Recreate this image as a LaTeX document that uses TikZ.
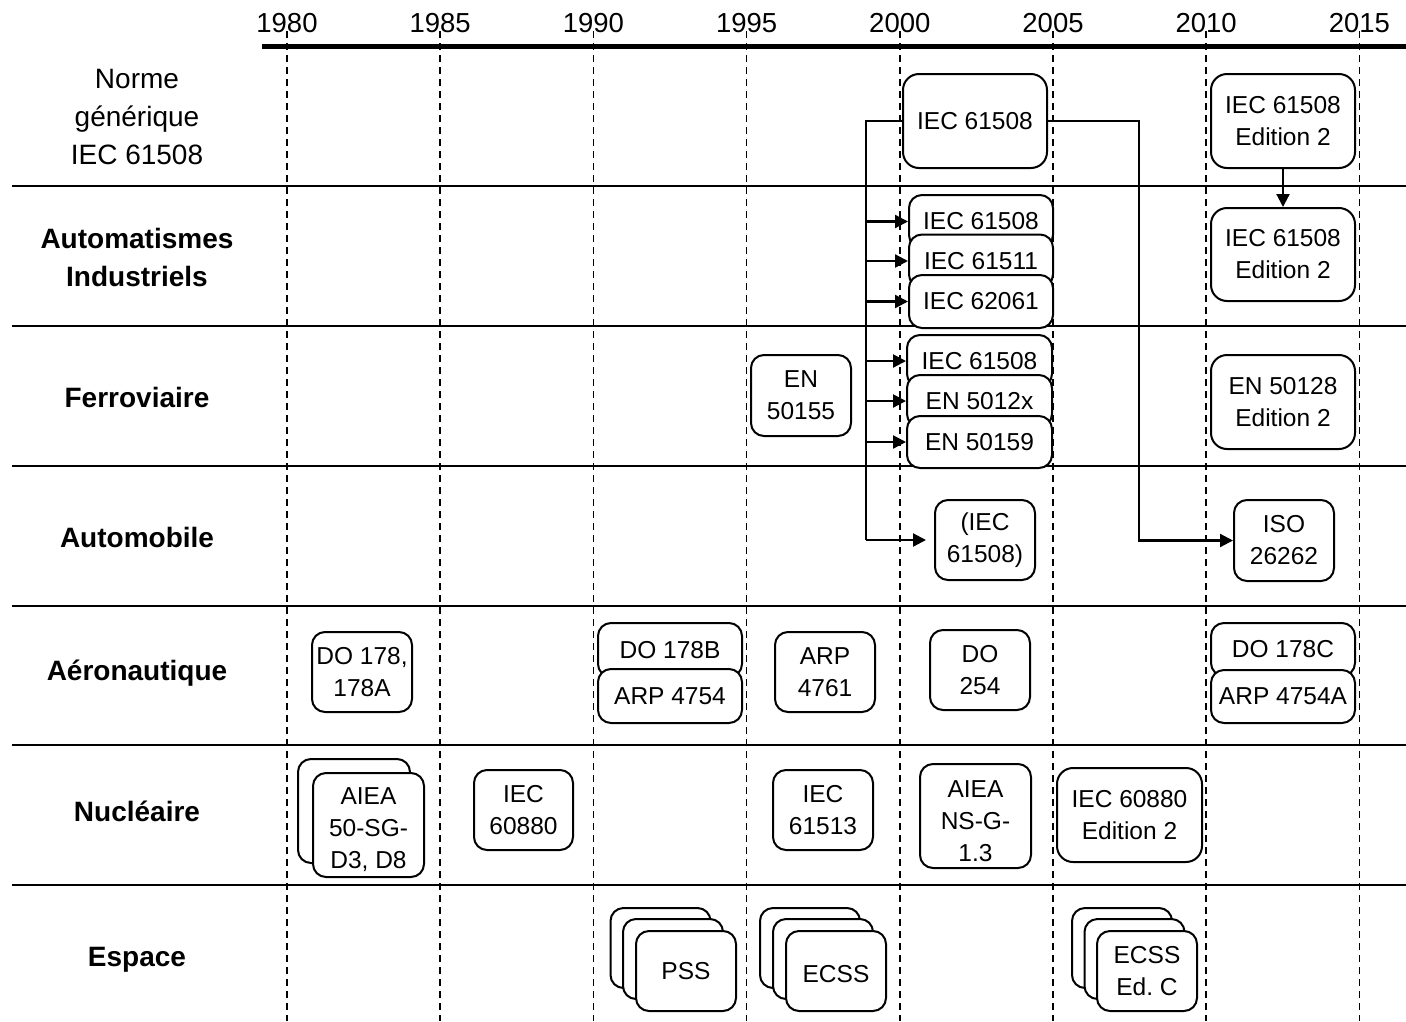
\documentclass[tikz,border=0pt]{standalone}
\usepackage{fontspec}
\setmainfont{Liberation Sans}
\usetikzlibrary{arrows.meta}
\newcommand\bxfont{\fontsize{24.5}{32}\selectfont}
\newcommand\lbfont{\fontsize{28}{38}\selectfont}
\newcommand\yrfont{\fontsize{27.5}{32}\selectfont}
\newcommand\lowtext[2]{\raisebox{#1}[\height][\depth]{\begin{tabular}{@{}c@{}}#2\end{tabular}}}
\begin{document}
\begin{tikzpicture}[x=1pt,y=-1pt,
 bx/.style={draw, line width=2pt, rounded corners=13pt, fill=white, align=center, font=\bxfont, inner sep=0pt},
 lbl/.style={align=center, font=\lbfont\bfseries},
 lblr/.style={align=center, font=\lbfont},
 sep/.style={line width=2.2pt},
 grid/.style={line width=1.6pt, dash pattern=on 7pt off 5pt},
 arr/.style={line width=2.2pt, -{Triangle[length=13pt,width=13pt]}},
 yr/.style={font=\yrfont, anchor=base, inner sep=0pt}]
\useasboundingbox (0,0) rectangle (1406,1021);

% years and grid
\foreach \yv [count=\k from 0] in {1980,1985,1990,1995,2000,2005,2010,2015}{
  \pgfmathsetmacro\xx{287+\k*153.2}
  \node[yr] (y\yv) at (\xx,32) {\yv};
  \draw[grid] (\xx,31) -- (\xx,1021);
}
\draw[line width=4.5pt] (262,46.5) -- (1406,46.5);

% row separators
\foreach \yy in {186,326,466,606,745,885}{
  \draw[sep] (12,\yy) -- (1406,\yy);
}

% row labels
\node[lblr] (l0) at (137,117) {Norme\\générique\\IEC 61508};
\node[lbl] (l1) at (137,257) {Automatismes\\Industriels};
\node[lbl] (l2) at (137,397) {Ferroviaire};
\node[lbl] (l3) at (137,537) {Automobile};
\node[lbl] (l4) at (137,673) {Aéronautique};
\node[lbl] (l5) at (137,811) {Nucléaire};
\node[lbl] (l6) at (137,960) {Espace};

% generic norm
\node[bx, rounded corners=16pt, minimum width=144pt, minimum height=94pt] (g) at (975,121) {IEC 61508};
\node[bx, rounded corners=16pt, minimum width=144pt, minimum height=94pt] (g2) at (1283,121) {IEC 61508\\Edition 2};

% Automatismes
\node[bx, minimum width=144pt, minimum height=53pt] (a1) at (981,221.5) {IEC 61508};
\node[bx, minimum width=144pt, minimum height=53pt] (a2) at (981,261) {IEC 61511};
\node[bx, minimum width=144pt, minimum height=53pt] (a3) at (981,301.5) {IEC 62061};
\node[bx, rounded corners=16pt, minimum width=144pt, minimum height=93pt] (ae2) at (1283,254.5) {IEC 61508\\Edition 2};

% Ferroviaire
\node[bx, minimum width=100pt, minimum height=81pt] (en155) at (801,395.5) {EN\\50155};
\node[bx, minimum width=145pt, minimum height=52pt] (f1) at (979.5,361) {IEC 61508};
\node[bx, minimum width=145pt, minimum height=52pt] (f2) at (979.5,401) {EN 5012x};
\node[bx, minimum width=145pt, minimum height=52pt] (f3) at (979.5,442) {EN 50159};
\node[bx, rounded corners=16pt, minimum width=144pt, minimum height=94pt] (en128) at (1283,402) {EN 50128\\Edition 2};

% Automobile
\node[bx, minimum width=100pt, minimum height=80pt] (am1) at (985,540) {(IEC\\61508)};
\node[bx, minimum width=100pt, minimum height=81pt] (iso) at (1284,540.5) {ISO\\26262};

% Aeronautique
\node[bx, minimum width=100pt, minimum height=80pt] (do178) at (362,672) {DO 178,\\178A};
\node[bx, minimum width=144pt, minimum height=54pt] (do178b) at (670,650) {DO 178B};
\node[bx, minimum width=144pt, minimum height=54pt] (arp4754) at (670,696) {ARP 4754};
\node[bx, minimum width=100pt, minimum height=80pt] (arp4761) at (825,672) {ARP\\4761};
\node[bx, minimum width=100pt, minimum height=80pt] (do254) at (980,670) {DO\\254};
\node[bx, minimum width=144pt, minimum height=53pt] (do178c) at (1283,649.5) {DO 178C};
\node[bx, minimum width=144pt, minimum height=53pt] (arp4754a) at (1283,696.5) {ARP 4754A};

% Nucleaire
\node[bx, minimum width=112pt, minimum height=104pt] (aiea0) at (354,811) {};
\node[bx, minimum width=111pt, minimum height=104pt] (aiea) at (368.5,825) {\lowtext{-5pt}{AIEA\\50-SG-\\D3, D8}};
\node[bx, minimum width=99pt, minimum height=80pt] (iec880) at (523.5,810) {IEC\\60880};
\node[bx, minimum width=100pt, minimum height=80pt] (iec513) at (823,810) {IEC\\61513};
\node[bx, minimum width=111pt, minimum height=104pt] (nsg) at (975.5,816) {\lowtext{-7pt}{AIEA\\NS-G-\\1.3}};
\node[bx, rounded corners=16pt, minimum width=145pt, minimum height=94pt] (iec880b) at (1129.5,815) {IEC 60880\\Edition 2};

% Espace
\node[bx, minimum width=100pt, minimum height=80pt] (pss0) at (660.5,948) {};
\node[bx, minimum width=100pt, minimum height=80pt] (pss1) at (673,959) {};
\node[bx, minimum width=100pt, minimum height=80pt] (pss) at (686,971) {PSS};
\node[bx, minimum width=100pt, minimum height=80pt] (ecss0) at (810,948) {};
\node[bx, minimum width=100pt, minimum height=80pt] (ecss1) at (823,959) {};
\node[bx, minimum width=100pt, minimum height=80pt] (ecss) at (836,971) {\lowtext{-5pt}{ECSS}};
\node[bx, minimum width=100pt, minimum height=80pt] (ecc0) at (1122,948) {};
\node[bx, minimum width=100pt, minimum height=80pt] (ecc1) at (1134.5,959) {};
\node[bx, minimum width=100pt, minimum height=80pt] (ecc) at (1147,971) {ECSS\\Ed.\ C};

% connectors
\coordinate (tr) at (866,0);
\coordinate (tr2) at (1139,0);
\draw[line width=2.2pt] (g.west) -- (g.west -| tr) -- (tr |- am1.west);
\draw[arr, shorten >=8pt] (tr |- am1.west) -- (am1.west);
\foreach \n in {a1,a2,a3,f1,f2,f3}{
  \draw[arr] (tr |- \n.west) -- (\n.west);
}
\draw[arr] (g.east) -- (g.east -| tr2) |- (iso.west);
\draw[arr] (g2.south) -- (ae2.north);
\end{tikzpicture}
\end{document}
